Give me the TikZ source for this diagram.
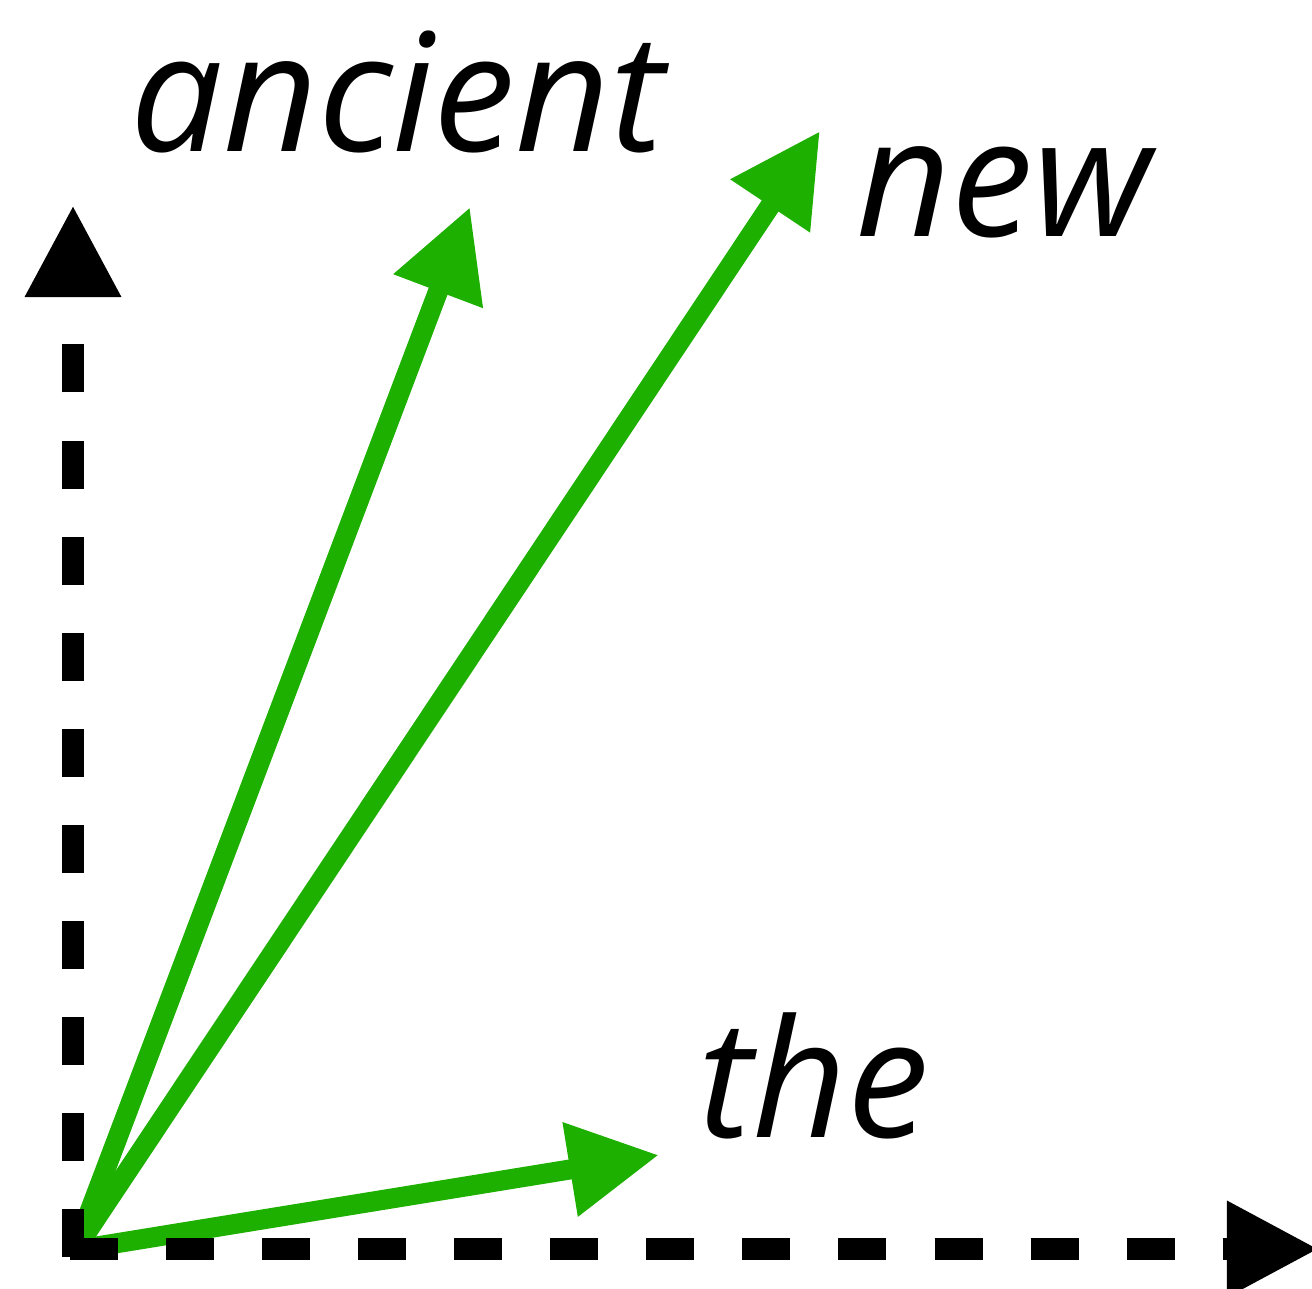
\documentclass[tikz,border=0pt]{standalone}
\usepackage{fontspec}
\setmainfont{Open Sans}
\usepackage{xcolor}
\usepackage{tikz}
\usetikzlibrary{arrows.meta,positioning}
\definecolor{vecgreen}{RGB}{30,176,0}

\begin{document}
\begin{tikzpicture}[
  x=0.01cm, y=-0.01cm,
  every node/.style={font=\fontsize{46.7}{56}\selectfont\itshape, inner sep=0pt},
  axis/.style={line width=0.22cm, dash pattern=on 0.48cm off 0.48cm,
               -{Triangle[length=0.92cm, width=0.9cm]}},
  wordvec/.style={line width=0.2cm, draw=vecgreen,
                  -{Triangle[length=0.9cm, width=0.9cm, fill=vecgreen]}},
  word/.style={anchor=base west},
]
\useasboundingbox (0,0) rectangle (1312,1289);
% origin and vector tips
\coordinate (origin) at (75,1250);
\coordinate (ancient) at (470,207);
\coordinate (new) at (820,131);
\coordinate (the) at (659,1155);
% word vectors
\draw[wordvec] (origin) -- (ancient);
\draw[wordvec] (origin) -- (new);
\draw[wordvec] (origin) -- (the);
% dashed axes
\coordinate (ybot) at (73,1257);
\coordinate (ytop) at (73,205);
\coordinate (xleft) at (70,1249);
\coordinate (xright) at (1319,1249);
\draw[axis] (ybot) -- (ytop);
\draw[axis] (xleft) -- (xright);
% labels
\node[word] (lbl-ancient) at (130,152) {ancient};
\node[word] (lbl-new) at (856,237) {new};
\node[word] (lbl-the) at (698,1137) {the};
\end{tikzpicture}
\end{document}
